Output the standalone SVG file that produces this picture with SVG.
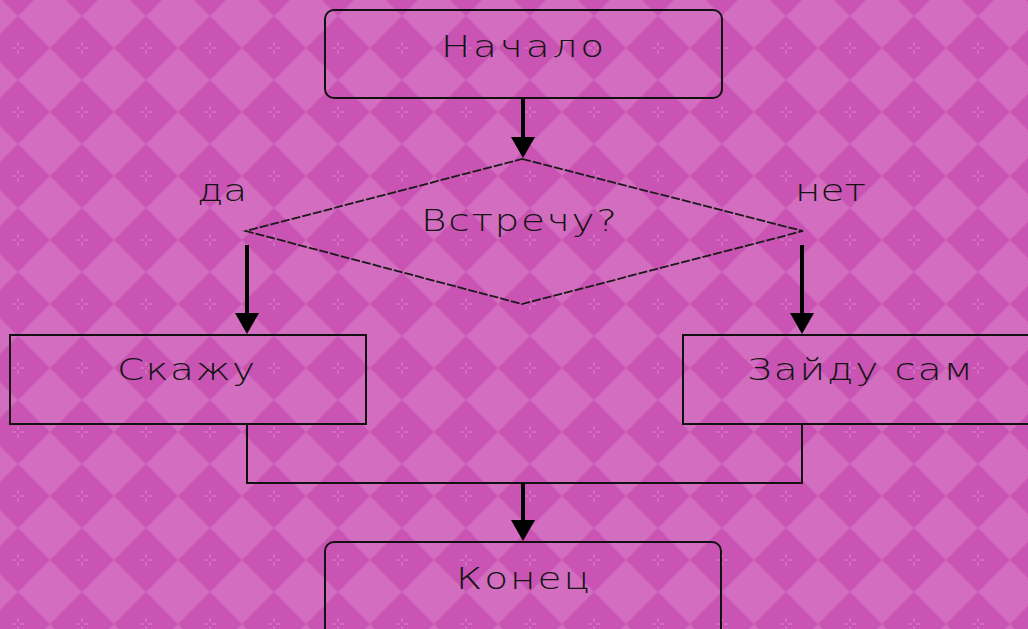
<svg xmlns="http://www.w3.org/2000/svg" width="1028" height="629" viewBox="0 0 1028 629">
<style>
.box{fill:none;stroke:#111;stroke-width:2}
.dia{fill:none;stroke:#1a1a1a;stroke-width:1.8;stroke-dasharray:9 2}
.line{fill:none;stroke:#111;stroke-width:2}
.arrow{fill:none;stroke:#000;stroke-width:4}
.head{fill:#000}
.t{font-family:"DejaVu Sans","Liberation Sans",sans-serif;font-size:30px;font-weight:200;fill:#141414}
</style>
<defs>
<pattern id="bg" patternUnits="userSpaceOnUse" x="-14" y="16" width="64" height="64">
<rect width="64" height="64" fill="#d36dbf"/>
<polygon points="32,0 64,32 32,64 0,32" fill="#c954b3"/>
<g stroke="#dc85cb" stroke-width="1">
<line x1="32" y1="26" x2="32" y2="30"/><line x1="32" y1="34" x2="32" y2="38"/>
<line x1="26" y1="32" x2="30" y2="32"/><line x1="34" y1="32" x2="38" y2="32"/>
</g>
</pattern>
<polygon id="ah" points="-12,0 12,0 0,21" class="head"/>
</defs>
<rect width="1028" height="629" fill="url(#bg)"/>

<g id="connectors">
<line class="arrow" x1="523" y1="98" x2="523" y2="140"/>
<use href="#ah" x="523" y="137"/>
<line class="arrow" x1="247" y1="245" x2="247" y2="316"/>
<use href="#ah" x="247" y="313"/>
<line class="arrow" x1="802" y1="245" x2="802" y2="316"/>
<use href="#ah" x="802" y="313"/>
<polyline class="line" points="247,424 247,483 802,483 802,424"/>
<line class="arrow" x1="523" y1="483" x2="523" y2="523"/>
<use href="#ah" x="523" y="520"/>
<text class="t" transform="translate(197,201) scale(1.3,1)" textLength="38.5" lengthAdjust="spacing">да</text>
<text class="t" transform="translate(795,201) scale(1.3,1)" textLength="54.6" lengthAdjust="spacing">нет</text>
</g>

<g id="start">
<rect class="box" x="325" y="10" width="397" height="88" rx="9"/>
<text class="t" transform="translate(441,57) scale(1.3,1)" textLength="125.4" lengthAdjust="spacing">Начало</text>
</g>

<g id="decision">
<polygon class="dia" points="522,159 803,231 522,304 246,231"/>
<text class="t" transform="translate(421,231) scale(1.3,1)" textLength="150.8" lengthAdjust="spacing">Встречу?</text>
</g>

<g id="yes">
<rect class="box" x="10" y="335" width="356" height="89"/>
<text class="t" transform="translate(117,380) scale(1.3,1)" textLength="106.2" lengthAdjust="spacing">Скажу</text>
</g>

<g id="no">
<rect class="box" x="683" y="335" width="360" height="89"/>
<text class="t" transform="translate(747,380) scale(1.3,1)" textLength="173.8" lengthAdjust="spacing">Зайду сам</text>
</g>

<g id="end">
<rect class="box" x="325" y="542" width="396" height="100" rx="9"/>
<text class="t" transform="translate(456,589) scale(1.3,1)" textLength="103.1" lengthAdjust="spacing">Конец</text>
</g>
</svg>
